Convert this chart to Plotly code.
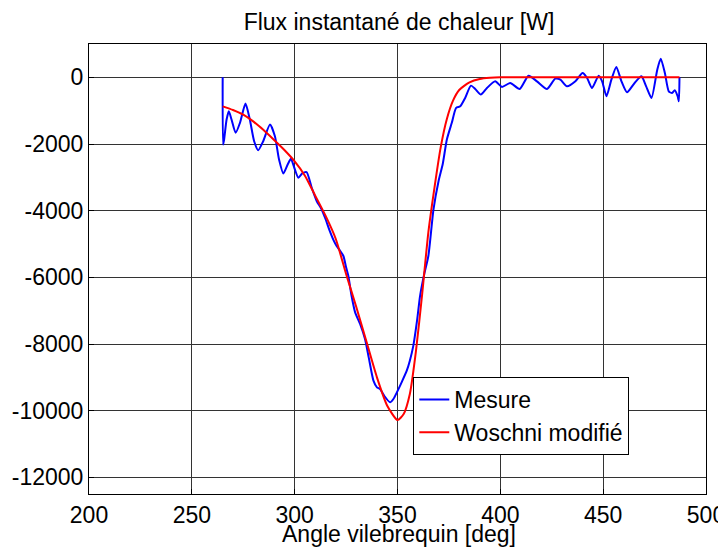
import plotly.graph_objects as go

# Mesure (blue)
mes_x = [265, 265.2, 265.7, 266.9, 268.0, 269.3, 271.3, 273.4, 276.1, 278.2, 280.3, 282.3, 284.7, 288.0,
         290.4, 292.4, 294.5, 296.6, 298.2, 300.1, 301.8, 303.7, 305.8, 308.3, 310.7, 313, 315, 317, 319, 320.4,
         322, 323.7, 325, 326.1, 327.5, 329.4, 331.8, 334.2, 336, 338.3, 340, 341.5, 343.5, 346.4, 348, 349.7,
         352, 354.5, 356, 357.7, 359.5, 361, 363, 365, 367.5, 370, 372, 374, 376.4, 378.5, 380.5, 382.9, 385.7,
         387.8, 390.5, 393.5, 397.5, 400.8, 404.8, 409.4, 413.7, 417.8, 422.7, 426.7, 429.2, 432.4, 436.5,
         440.0, 442.2, 444.6, 447.8, 449.5, 451.6, 454.0, 456.4, 458.9, 461.6, 465.3, 468.6, 470.9, 473.5,
         476.3, 478.0, 480.0, 481.9, 483.5, 484.8, 486.2, 486.8, 487.1]
mes_y = [0, -2015, -1865, -1266, -1018, -1266, -1665, -1365, -787, -1266, -1916, -2185, -1916, -1416,
         -1766, -2464, -2883, -2614, -2444, -2764, -3013, -2883, -2844, -3312, -3710, -3950, -4250, -4600, -4900, -5060,
         -5200, -5360, -5700, -5960, -6500, -7050, -7400, -7850, -8400, -9100, -9300, -9350, -9550, -9750, -9650, -9450,
         -9150, -8800, -8500, -8050, -7300, -6550, -5900, -5360, -3960, -3100, -2600, -1865, -1365, -917, -868, -618, -249,
         -349, -518, -319, -120, -289, -169, -349, 50, -120, -349, -40, -69, -269, -120,
         130, -20, -319, 50, -120, -568, -69, 311, -120, -449, -169, 30, -269, -618,
         231, 560, 130, -419, -469, -389, -568, -718, 0]

# Woschni modifié (red)
wos_x = [265, 270, 275, 280, 285, 290, 295, 300, 305, 310, 315, 320, 325, 330, 335, 340, 345, 350, 353, 356,
         359, 362, 365, 368, 371, 374, 377, 380, 385, 390, 395, 400, 487.1]
wos_y = [-870, -980, -1120, -1330, -1590, -1880, -2180, -2520, -2950, -3550, -4150, -4850, -5900, -6900, -7950,
         -9000, -9850, -10280, -10100, -9500, -8200, -6500, -4650, -3300, -2100, -1250, -700, -380, -150, -50, -15, 0, 0]

x_ticks = [200, 250, 300, 350, 400, 450, 500]
y_ticks = [0, -2000, -4000, -6000, -8000, -10000, -12000]

FONT = "Arial, Liberation Sans, sans-serif"

fig = go.Figure()
fig.add_trace(go.Scatter(x=mes_x, y=mes_y, mode="lines", name="Mesure",
                         line=dict(color="#0000ff", width=2, shape="spline", smoothing=0.6)))
fig.add_trace(go.Scatter(x=wos_x, y=wos_y, mode="lines", name="Woschni modifié",
                         line=dict(color="#ff0000", width=2, shape="spline", smoothing=0.6)))

axis_common = dict(showline=True, linecolor="black", linewidth=1, mirror=True,
                   showgrid=True, gridcolor="#333333", gridwidth=1, zeroline=False,
                   ticks="inside", ticklen=5, tickcolor="black",
                   tickfont=dict(family=FONT, size=23, color="black"))

fig.update_xaxes(range=[200, 500], tickvals=x_ticks, ticktext=[str(v) for v in x_ticks],
                 automargin=False, **axis_common)
fig.update_yaxes(range=[-12500, 1000], tickvals=y_ticks, ticktext=[str(v) for v in y_ticks],
                 automargin=False, **axis_common)

fig.add_annotation(text="Angle vilebrequin [deg]", xref="paper", yref="paper",
                   x=0.5024, y=-0.089, xanchor="center", yanchor="middle", showarrow=False,
                   font=dict(family=FONT, size=23, color="black"))

fig.update_layout(
    width=718, height=541,
    margin=dict(l=81, r=20, t=36, b=55),
    paper_bgcolor="white", plot_bgcolor="white",
    title=dict(text="Flux instantané de chaleur [W]", xref="paper", x=0.5024, xanchor="center",
               y=1 - 14 / 541, yref="container", yanchor="middle",
               font=dict(family=FONT, size=23, color="black")),
    legend=dict(x=0.5256, y=0.26, xanchor="left", yanchor="top",
                bgcolor="white", bordercolor="black", borderwidth=1,
                font=dict(family=FONT, size=23, color="black"),
                tracegroupgap=0, itemwidth=30),
    showlegend=True,
)

fig.write_html("out.html")
